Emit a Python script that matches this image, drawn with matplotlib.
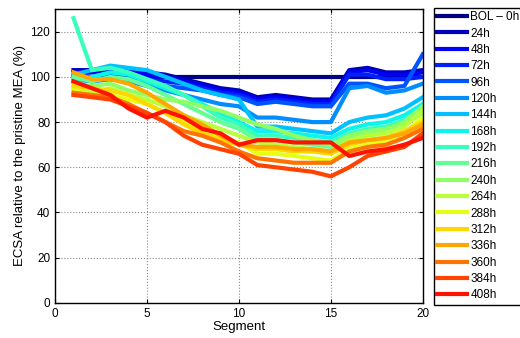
import matplotlib
matplotlib.use('Agg')
import matplotlib.pyplot as plt
import numpy as np

plt.rcParams['font.family'] = ['Liberation Sans', 'DejaVu Sans']

segments = list(range(1, 21))
labels = ['BOL – 0h', '24h', '48h', '72h', '96h', '120h', '144h', '168h', '192h',
          '216h', '240h', '264h', '288h', '312h', '336h', '360h', '384h', '408h']

# ECSA relative to pristine MEA (%), one list per ageing time
bol = [100] * 20
h24 = [103, 103, 104, 103, 102, 101, 99, 97, 95, 94, 91, 92, 91, 90, 90, 103, 104, 102, 102, 103]
h48 = [102, 102, 103, 102, 101, 100, 98, 96, 94, 93, 90, 91, 90, 89, 89, 102, 103, 101, 101, 102]
h72 = [101, 100, 101, 100, 99, 98, 97, 95, 93, 92, 89, 90, 89, 88, 88, 101, 101, 99, 99, 100]
h96 = [100, 99, 99, 98, 97, 96, 95, 94, 92, 91, 88, 89, 88, 87, 87, 97, 97, 95, 96, 110]
h120 = [99, 98, 99, 98, 96, 94, 92, 90, 88, 87, 82, 82, 81, 80, 80, 95, 96, 93, 94, 97]
h144 = [101, 103, 105, 104, 103, 100, 97, 94, 92, 90, 78, 78, 77, 76, 75, 80, 82, 83, 86, 91]
h168 = [98, 100, 102, 101, 98, 95, 92, 88, 84, 80, 76, 76, 75, 74, 73, 77, 79, 80, 83, 88]
h192 = [126, 103, 104, 102, 99, 96, 92, 87, 82, 79, 74, 74, 73, 72, 71, 75, 77, 78, 81, 86]
h216 = [100, 98, 100, 99, 96, 92, 88, 84, 80, 77, 72, 72, 71, 70, 69, 73, 75, 76, 79, 84]
h240 = [97, 96, 97, 94, 92, 90, 89, 87, 85, 82, 79, 77, 74, 72, 70, 74, 76, 77, 80, 87]
h264 = [95, 93, 95, 92, 90, 87, 83, 80, 77, 74, 71, 70, 69, 68, 67, 72, 74, 75, 78, 85]
h288 = [94, 92, 92, 90, 88, 84, 80, 76, 73, 71, 66, 66, 65, 64, 63, 68, 70, 72, 75, 82]
h312 = [96, 95, 94, 92, 88, 84, 79, 75, 72, 70, 68, 68, 67, 67, 66, 70, 72, 73, 76, 80]
h336 = [102, 99, 99, 97, 93, 88, 83, 79, 74, 70, 69, 69, 68, 68, 67, 71, 72, 73, 75, 79]
h360 = [93, 92, 91, 88, 84, 80, 76, 74, 71, 67, 64, 63, 62, 62, 62, 67, 69, 70, 73, 77]
h384 = [92, 91, 90, 87, 84, 80, 74, 70, 68, 66, 61, 60, 59, 58, 56, 60, 65, 67, 69, 75]
h408 = [98, 95, 92, 86, 82, 85, 82, 77, 75, 70, 72, 72, 71, 71, 71, 65, 67, 68, 70, 73]

series = [bol, h24, h48, h72, h96, h120, h144, h168, h192, h216,
          h240, h264, h288, h312, h336, h360, h384, h408]

colors = plt.cm.jet(np.linspace(0.0, 0.89, len(series)))

fig = plt.figure(figsize=(5.2, 3.38), dpi=100)
ax = fig.add_axes([0.106, 0.104, 0.707, 0.869])

for vals, lab, c in zip(series, labels, colors):
    ax.plot(segments, vals, '-', color=c, linewidth=3, label=lab)

ax.set_xlim(0, 20)
ax.set_ylim(0, 130)
ax.set_xticks([0, 5, 10, 15, 20])
ax.set_yticks([0, 20, 40, 60, 80, 100, 120])
ax.grid(True, linestyle=':', color='#888888', linewidth=0.8)
ax.tick_params(direction='in', top=True, right=True, labelsize=8.5, length=3)
for s in ax.spines.values():
    s.set_linewidth(1.0)
ax.set_xlabel('Segment', fontsize=9.5, labelpad=1)
ax.set_ylabel('ECSA relative to the pristine MEA (%)', fontsize=9.5, labelpad=3)

# legend sits partly outside the figure, as in the original
leg = fig.legend(loc='upper left', bbox_to_anchor=(0.823, 0.995), fontsize=8.5,
                 handlelength=2.5, handletextpad=0.3, labelspacing=0.37,
                 borderpad=0.3, fancybox=False, framealpha=1, edgecolor='black')
leg.get_frame().set_linewidth(1.0)

fig.savefig('out.png', dpi=100)
